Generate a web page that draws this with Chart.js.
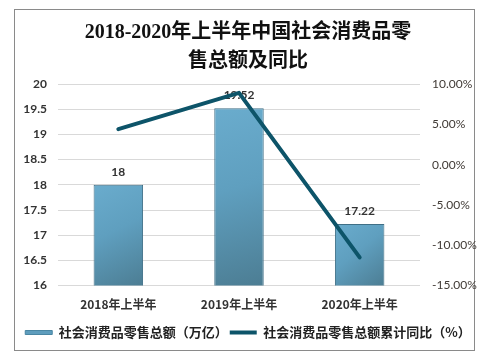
<!DOCTYPE html>
<html>
<head>
<meta charset="utf-8">
<script src="https://cdn.jsdelivr.net/npm/chart.js@4/dist/chart.umd.min.js"></script>
<style>
  html, body { margin: 0; padding: 0; background: #fff; }
  #frame { position: absolute; left: 14px; top: 9px; width: 461px; height: 342px; border: 1px solid #8a8a8a; box-sizing: border-box; }
  #wrap { position: absolute; left: 0; top: 0; width: 496px; height: 360px; }
</style>
</head>
<body>
<div id="frame"></div>
<div id="wrap"><canvas id="c" width="496" height="360"></canvas></div>
<script>
const categories = ['2018年上半年', '2019年上半年', '2020年上半年'];
const salesTotal = [18, 19.52, 17.22];          // 社会消费品零售总额（万亿）
const yoyGrowth = [4.4, 8.9, -11.5];            // 累计同比（%）
const seriesNames = ['社会消费品零售总额（万亿）', '社会消费品零售总额累计同比（%）'];
const titleLines = ['2018-2020年上半年中国社会消费品零', '售总额及同比'];

const CJK = '"Noto Sans CJK SC", "Noto Sans", sans-serif';
const NUM = 'Lato, "Noto Sans CJK SC", sans-serif';

function barGradient(ctx) {
  const chart = ctx.chart;
  const ca = chart.chartArea;
  if (!ca || ctx.type !== 'data') return '#5d9bbb';
  const xs = chart.scales.x, ys = chart.scales.y;
  const cx = xs.getPixelForValue(ctx.dataIndex);
  const top = ys.getPixelForValue(ctx.raw);
  const w = 50;
  const g = chart.ctx.createLinearGradient(cx - w / 2, top, cx + w / 2, ca.bottom);
  g.addColorStop(0, '#6aaccd');
  g.addColorStop(0.45, '#5f9fbf');
  g.addColorStop(1, '#4c7d93');
  return g;
}

const valueLabels = {
  id: 'valueLabels',
  afterDatasetDraw(chart, args) {
    if (args.index !== 0) return;
    const ctx = chart.ctx;
    ctx.save();
    ctx.font = 'bold 12px ' + NUM;
    ctx.fillStyle = '#333';
    ctx.textAlign = 'center';
    ctx.textBaseline = 'middle';
    args.meta.data.forEach((el, i) => {
      ctx.fillText(String(salesTotal[i]), el.x, el.y - 13);
    });
    ctx.restore();
  }
};

new Chart(document.getElementById('c'), {
  data: {
    labels: categories,
    datasets: [
      {
        type: 'bar',
        label: seriesNames[0],
        data: salesTotal,
        yAxisID: 'y',
        order: 1,
        backgroundColor: barGradient,
        borderColor: '#3f6f86',
        borderWidth: 1,
        barPercentage: 0.41,
        categoryPercentage: 1
      },
      {
        type: 'line',
        label: seriesNames[1],
        data: yoyGrowth,
        yAxisID: 'y1',
        order: 0,
        borderColor: '#0d5469',
        backgroundColor: '#0d5469',
        borderWidth: 4,
        pointRadius: 0,
        pointHoverRadius: 0,
        tension: 0,
        borderJoinStyle: 'round',
        borderCapStyle: 'round'
      }
    ]
  },
  options: {
    responsive: false,
    animation: false,
    events: [],
    layout: { padding: { left: 4, right: 4, top: 10, bottom: 11 } },
    plugins: {
      title: {
        display: true,
        text: titleLines,
        color: '#111',
        font: { family: '"Liberation Serif", "Noto Sans CJK SC", serif', size: 20, weight: 'bold', lineHeight: 1.45 },
        padding: { top: 8, bottom: 8 }
      },
      legend: {
        position: 'bottom',
        labels: {
          boxWidth: 27,
          boxHeight: 4,
          padding: 2,
          color: '#222',
          font: { family: CJK, size: 13, weight: 'bold' },
          sort: (a, b) => a.datasetIndex - b.datasetIndex,
          generateLabels(chart) {
            const items = Chart.defaults.plugins.legend.labels.generateLabels(chart);
            items.forEach(it => {
              if (it.datasetIndex === 0) {
                it.fillStyle = '#5e9dbd';
                it.strokeStyle = '#4a86a3';
                it.lineWidth = 1;
              } else {
                it.fillStyle = '#0d5469';
                it.strokeStyle = '#0d5469';
                it.lineWidth = 0;
              }
            });
            return items;
          }
        }
      },
      tooltip: { enabled: false }
    },
    scales: {
      x: {
        grid: { display: false, drawTicks: false },
        border: { display: false },
        ticks: { color: '#333', padding: 12, font: { family: CJK, size: 12, weight: 'bold' } }
      },
      y: {
        position: 'left',
        min: 16, max: 20,
        afterFit(s) { s.width = 54; },
        grid: { color: '#d9d9d9', lineWidth: 1, drawTicks: false },
        border: { display: false },
        ticks: {
          stepSize: 0.5, color: '#333', padding: 11,
          font: { family: NUM, size: 12, weight: 'bold' },
          callback: v => String(Math.round(v * 10) / 10)
        }
      },
      y1: {
        position: 'right',
        min: -15, max: 10,
        afterFit(s) { s.width = 72; },
        grid: { drawOnChartArea: false, drawTicks: false },
        border: { display: false },
        ticks: {
          stepSize: 5, color: '#403a35', padding: 12,
          font: { family: NUM, size: 12 },
          callback: v => v.toFixed(2) + '%'
        }
      }
    }
  },
  plugins: [valueLabels]
});
</script>
</body>
</html>
